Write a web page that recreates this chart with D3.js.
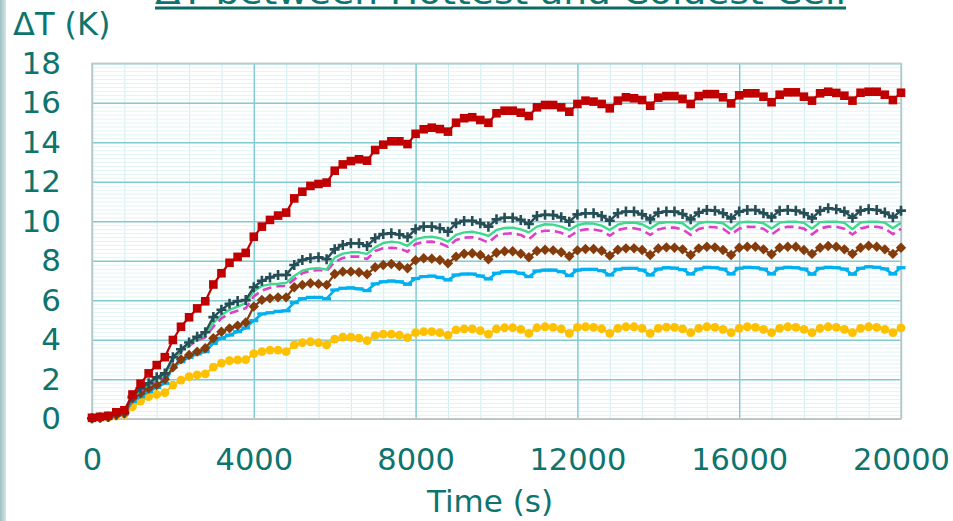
<!DOCTYPE html>
<html>
<head>
<meta charset="utf-8">
<script src="https://cdn.jsdelivr.net/npm/d3@7"></script>
<style>
  html, body { margin: 0; padding: 0; background: #ffffff; overflow: hidden; }
  svg { display: block; }
</style>
</head>
<body>
<svg id="chart" width="953" height="521"></svg>
<script>
// Sample times (s): one reading every 200 s from 0 to 20000 s
const times = d3.range(0, 20001, 200);

// Temperature difference ΔT (K) between hottest and coldest cell, one array per case
const redSquares = [
  0.05, 0.10, 0.15, 0.33, 0.43,
  1.23, 1.78, 2.30, 2.72, 3.12,
  3.99, 4.66, 5.14, 5.59, 5.95,
  6.80, 7.37, 7.90, 8.20, 8.40,
  9.22, 9.73, 10.07, 10.29, 10.44,
  11.16, 11.50, 11.79, 11.89, 11.96,
  12.56, 12.88, 13.05, 13.14, 13.07,
  13.61, 13.88, 14.05, 14.05, 13.91,
  14.43, 14.66, 14.74, 14.67, 14.54,
  14.99, 15.22, 15.27, 15.13, 14.99,
  15.47, 15.60, 15.60, 15.50, 15.33,
  15.77, 15.89, 15.89, 15.77, 15.55,
  15.94, 16.11, 16.06, 15.94, 15.72,
  16.11, 16.28, 16.23, 16.14, 15.85,
  16.26, 16.34, 16.34, 16.20, 15.94,
  16.34, 16.44, 16.44, 16.28, 15.97,
  16.38, 16.48, 16.48, 16.31, 16.03,
  16.41, 16.53, 16.53, 16.31, 16.11,
  16.48, 16.56, 16.50, 16.36, 16.11,
  16.51, 16.56, 16.56, 16.41, 16.14,
  16.51
];
const slatePlus = [
  0.03, 0.06, 0.10, 0.22, 0.32,
  1.12, 1.54, 1.80, 2.10, 2.30,
  3.12, 3.52, 3.86, 4.15, 4.38,
  5.15, 5.52, 5.82, 5.96, 6.01,
  6.66, 6.99, 7.16, 7.28, 7.28,
  7.79, 8.04, 8.13, 8.18, 8.08,
  8.58, 8.80, 8.89, 8.89, 8.75,
  9.14, 9.36, 9.39, 9.34, 9.19,
  9.60, 9.73, 9.73, 9.65, 9.47,
  9.90, 10.02, 10.02, 9.90, 9.73,
  10.10, 10.18, 10.18, 10.07, 9.86,
  10.27, 10.33, 10.32, 10.20, 9.98,
  10.35, 10.41, 10.41, 10.27, 10.03,
  10.41, 10.49, 10.49, 10.35, 10.10,
  10.44, 10.50, 10.49, 10.37, 10.10,
  10.44, 10.57, 10.54, 10.41, 10.15,
  10.49, 10.57, 10.57, 10.41, 10.20,
  10.54, 10.57, 10.54, 10.41, 10.15,
  10.54, 10.66, 10.61, 10.49, 10.18,
  10.54, 10.61, 10.57, 10.44, 10.20,
  10.54
];
const greenLine = [
  0.03, 0.06, 0.10, 0.20, 0.30,
  1.10, 1.46, 1.72, 2.00, 2.22,
  3.02, 3.45, 3.76, 4.04, 4.25,
  4.85, 5.25, 5.52, 5.68, 5.86,
  6.47, 6.73, 6.81, 6.84, 6.88,
  7.23, 7.50, 7.60, 7.62, 7.56,
  8.16, 8.36, 8.43, 8.43, 8.35,
  8.68, 8.90, 8.97, 8.92, 8.76,
  9.10, 9.19, 9.22, 9.15, 8.97,
  9.31, 9.44, 9.47, 9.39, 9.26,
  9.56, 9.66, 9.68, 9.59, 9.44,
  9.73, 9.85, 9.83, 9.73, 9.56,
  9.80, 9.90, 9.88, 9.78, 9.56,
  9.83, 9.93, 9.93, 9.85, 9.63,
  9.90, 9.95, 9.95, 9.90, 9.59,
  9.90, 9.97, 9.95, 9.90, 9.60,
  9.93, 9.98, 9.96, 9.90, 9.63,
  9.93, 9.98, 9.98, 9.92, 9.63,
  9.96, 9.98, 9.98, 9.92, 9.60,
  9.94, 9.98, 9.98, 9.93, 9.65,
  9.93
];
const magentaDash = [
  0.03, 0.06, 0.10, 0.20, 0.30,
  1.08, 1.42, 1.66, 1.93, 2.15,
  2.98, 3.40, 3.69, 3.96, 4.13,
  4.66, 5.09, 5.34, 5.47, 5.60,
  6.20, 6.49, 6.64, 6.71, 6.73,
  7.06, 7.37, 7.50, 7.53, 7.48,
  7.94, 8.14, 8.21, 8.21, 8.09,
  8.50, 8.63, 8.66, 8.63, 8.46,
  8.85, 8.95, 8.97, 8.89, 8.71,
  9.05, 9.17, 9.19, 9.10, 8.92,
  9.27, 9.37, 9.39, 9.31, 9.09,
  9.44, 9.52, 9.52, 9.42, 9.22,
  9.51, 9.59, 9.59, 9.51, 9.27,
  9.56, 9.65, 9.65, 9.56, 9.31,
  9.59, 9.68, 9.68, 9.59, 9.31,
  9.61, 9.71, 9.70, 9.62, 9.33,
  9.63, 9.72, 9.71, 9.62, 9.33,
  9.62, 9.72, 9.72, 9.63, 9.34,
  9.64, 9.73, 9.72, 9.62, 9.33,
  9.63, 9.73, 9.72, 9.64, 9.35,
  9.62
];
const brownDiamonds = [
  0.03, 0.05, 0.09, 0.19, 0.28,
  1.04, 1.29, 1.54, 1.71, 2.00,
  2.61, 3.01, 3.23, 3.40, 3.57,
  4.08, 4.41, 4.58, 4.72, 4.88,
  5.68, 6.02, 6.10, 6.15, 6.15,
  6.66, 6.78, 6.86, 6.83, 6.78,
  7.33, 7.45, 7.45, 7.42, 7.32,
  7.67, 7.79, 7.84, 7.74, 7.62,
  8.03, 8.13, 8.11, 8.04, 7.87,
  8.21, 8.36, 8.38, 8.29, 8.08,
  8.41, 8.48, 8.48, 8.36, 8.18,
  8.50, 8.56, 8.53, 8.43, 8.23,
  8.53, 8.60, 8.60, 8.51, 8.26,
  8.56, 8.63, 8.63, 8.55, 8.29,
  8.62, 8.68, 8.66, 8.58, 8.29,
  8.63, 8.71, 8.68, 8.55, 8.29,
  8.66, 8.71, 8.71, 8.58, 8.33,
  8.66, 8.71, 8.71, 8.55, 8.35,
  8.66, 8.75, 8.71, 8.58, 8.35,
  8.66, 8.76, 8.71, 8.58, 8.35,
  8.66
];
const blueDashes = [
  0.02, 0.05, 0.08, 0.17, 0.25,
  0.87, 1.12, 1.37, 1.59, 1.80,
  2.61, 2.89, 3.11, 3.28, 3.40,
  3.82, 4.08, 4.24, 4.41, 4.60,
  4.97, 5.31, 5.37, 5.44, 5.47,
  5.88, 6.08, 6.15, 6.15, 6.08,
  6.52, 6.61, 6.63, 6.58, 6.49,
  6.83, 6.94, 6.98, 6.94, 6.81,
  7.10, 7.20, 7.23, 7.16, 7.03,
  7.28, 7.33, 7.33, 7.23, 7.08,
  7.37, 7.45, 7.45, 7.37, 7.20,
  7.48, 7.53, 7.53, 7.45, 7.25,
  7.53, 7.57, 7.57, 7.50, 7.28,
  7.57, 7.62, 7.62, 7.53, 7.28,
  7.58, 7.65, 7.63, 7.55, 7.33,
  7.58, 7.67, 7.65, 7.58, 7.33,
  7.62, 7.67, 7.65, 7.58, 7.33,
  7.62, 7.67, 7.65, 7.58, 7.32,
  7.62, 7.67, 7.65, 7.58, 7.32,
  7.62, 7.70, 7.67, 7.59, 7.33,
  7.65
];
const goldCircles = [
  0.02, 0.04, 0.07, 0.14, 0.22,
  0.61, 0.90, 1.12, 1.23, 1.32,
  1.71, 1.96, 2.13, 2.22, 2.27,
  2.62, 2.82, 2.94, 2.98, 2.99,
  3.30, 3.40, 3.48, 3.48, 3.40,
  3.74, 3.85, 3.90, 3.85, 3.74,
  4.03, 4.13, 4.13, 4.08, 3.96,
  4.21, 4.29, 4.29, 4.23, 4.11,
  4.36, 4.41, 4.41, 4.36, 4.23,
  4.50, 4.55, 4.55, 4.46, 4.29,
  4.55, 4.61, 4.61, 4.53, 4.33,
  4.61, 4.66, 4.63, 4.55, 4.33,
  4.63, 4.66, 4.63, 4.56, 4.33,
  4.58, 4.66, 4.66, 4.58, 4.33,
  4.58, 4.64, 4.63, 4.55, 4.36,
  4.58, 4.66, 4.63, 4.53, 4.36,
  4.58, 4.66, 4.63, 4.53, 4.36,
  4.58, 4.66, 4.63, 4.53, 4.36,
  4.58, 4.66, 4.63, 4.53, 4.36,
  4.58, 4.66, 4.63, 4.53, 4.36,
  4.60
];

// Axis ticks and texts
const xTicks = [0, 4000, 8000, 12000, 16000, 20000];
const yTicks = [0, 2, 4, 6, 8, 10, 12, 14, 16, 18];
const titleText = "ΔT between Hottest and Coldest Cell";
const yTitle = "ΔT (K)";
const xTitle = "Time (s)";

const teal = "#0e746e";
const font = "'DejaVu Sans', Verdana, sans-serif";

const svg = d3.select("#chart");
const plot = { left: 92, right: 901, top: 63.3, bottom: 418.8 };

const x = d3.scaleLinear().domain([0, 20000]).range([plot.left, plot.right]);
const y = d3.scaleLinear().domain([0, 18]).range([plot.bottom, plot.top]);

// Thin shaded slide edge on the left
const grad = svg.append("defs").append("linearGradient").attr("id", "edge")
  .attr("x1", 0).attr("x2", 1).attr("y1", 0).attr("y2", 0);
grad.append("stop").attr("offset", 0).attr("stop-color", "#9fc1c1");
grad.append("stop").attr("offset", 1).attr("stop-color", "#d3e5e5");
svg.append("rect").attr("x", 0).attr("y", 0).attr("width", 6).attr("height", 521)
  .attr("fill", "url(#edge)");

// Slide title, mostly above the visible frame, underlined
svg.append("text")
  .attr("x", 155).attr("y", 3.5)
  .attr("textLength", 691).attr("lengthAdjust", "spacingAndGlyphs")
  .attr("font-family", font).attr("font-size", 34).attr("fill", teal)
  .text(titleText);
svg.append("rect").attr("x", 155).attr("y", 6.5).attr("width", 691).attr("height", 3)
  .attr("fill", "#0b6a64");

// Minor grid
const gMinor = svg.append("g");
gMinor.append("g").attr("transform", `translate(0,${plot.bottom})`)
  .call(d3.axisBottom(x).tickValues(d3.range(800, 20000, 800)).tickSize(-(plot.bottom - plot.top)).tickFormat(""))
  .call(g => g.select(".domain").remove())
  .call(g => g.selectAll("line").attr("stroke", "#cfecee").attr("stroke-width", 1));
gMinor.append("g").attr("transform", `translate(${plot.left},0)`)
  .call(d3.axisLeft(y).tickValues(d3.range(0.2, 18, 0.2)).tickSize(-(plot.right - plot.left)).tickFormat(""))
  .call(g => g.select(".domain").remove())
  .call(g => g.selectAll("line").attr("stroke", "#e3f4f5").attr("stroke-width", 1));

// Major grid
svg.append("g").attr("transform", `translate(0,${plot.bottom})`)
  .call(d3.axisBottom(x).tickValues(xTicks).tickSize(-(plot.bottom - plot.top)).tickFormat(""))
  .call(g => g.select(".domain").remove())
  .call(g => g.selectAll("line").attr("stroke", "#82cbd0").attr("stroke-width", 1.4));
svg.append("g").attr("transform", `translate(${plot.left},0)`)
  .call(d3.axisLeft(y).tickValues(yTicks).tickSize(-(plot.right - plot.left)).tickFormat(""))
  .call(g => g.select(".domain").remove())
  .call(g => g.selectAll("line").attr("stroke", "#82cbd0").attr("stroke-width", 1.4));

// Plot frame
svg.append("rect")
  .attr("x", plot.left).attr("y", plot.top)
  .attr("width", plot.right - plot.left).attr("height", plot.bottom - plot.top)
  .attr("fill", "none").attr("stroke", "#c4c8c8").attr("stroke-width", 1.5);

// Tick labels
svg.append("g").attr("transform", `translate(${plot.left},0)`)
  .call(d3.axisLeft(y).tickValues(yTicks).tickSize(0).tickPadding(31))
  .call(g => g.select(".domain").remove())
  .call(g => g.selectAll("text").attr("font-family", font).attr("font-size", 31).attr("fill", teal));
svg.append("g").attr("transform", `translate(0,${plot.bottom})`)
  .call(d3.axisBottom(x).tickValues(xTicks).tickSize(0).tickPadding(30).tickFormat(d3.format("d")))
  .call(g => g.select(".domain").remove())
  .call(g => g.selectAll("text").attr("font-family", font).attr("font-size", 30.5).attr("fill", teal));

// Axis titles
svg.append("text").attr("x", 13).attr("y", 35)
  .attr("font-family", font).attr("font-size", 32).attr("fill", teal).text(yTitle);
svg.append("text").attr("x", 490).attr("y", 512).attr("text-anchor", "middle")
  .attr("font-family", font).attr("font-size", 31).attr("fill", teal).text(xTitle);

// Series definitions (drawn bottom to top)
const series = [
  { values: goldCircles, color: "#ffc000", width: 2.2, marker: "circle" },
  { values: blueDashes, color: "#00b0f0", width: 2.6, marker: "dash" },
  { values: brownDiamonds, color: "#843c0c", width: 2.2, marker: "diamond" },
  { values: magentaDash, color: "#e040c8", width: 2.6, dash: "9,5", marker: null },
  { values: greenLine, color: "#3fd88e", width: 2.4, marker: null },
  { values: slatePlus, color: "#264e57", width: 2.4, marker: "plus" },
  { values: redSquares, color: "#c00000", width: 2.2, marker: "square" }
];

const line = d3.line().x(d => x(d[0])).y(d => y(d[1]));
const markerPath = {
  square: "M-4.3,-4.3H4.3V4.3H-4.3Z",
  diamond: "M0,-5.2L5.2,0L0,5.2L-5.2,0Z",
  plus: "M-5,0H5M0,-5V5",
  dash: "M-4.5,0H4.5"
};

const gSeries = svg.append("g");
series.forEach(s => {
  const pts = times.map((t, i) => [t, s.values[i]]);
  gSeries.append("path").datum(pts)
    .attr("d", line).attr("fill", "none")
    .attr("stroke", s.color).attr("stroke-width", s.width)
    .attr("stroke-linejoin", "round")
    .attr("stroke-dasharray", s.dash || null);
  if (!s.marker) return;
  const m = gSeries.append("g").selectAll("g").data(pts).join("g")
    .attr("transform", d => `translate(${x(d[0])},${y(d[1])})`);
  if (s.marker === "circle") {
    m.append("circle").attr("r", 4.4).attr("fill", s.color);
  } else if (s.marker === "plus") {
    m.append("path").attr("d", markerPath.plus).attr("fill", "none")
      .attr("stroke", s.color).attr("stroke-width", 2.6);
  } else if (s.marker === "dash") {
    m.append("path").attr("d", markerPath.dash).attr("fill", "none")
      .attr("stroke", s.color).attr("stroke-width", 3.2);
  } else {
    m.append("path").attr("d", markerPath[s.marker]).attr("fill", s.color);
  }
});
</script>
</body>
</html>
